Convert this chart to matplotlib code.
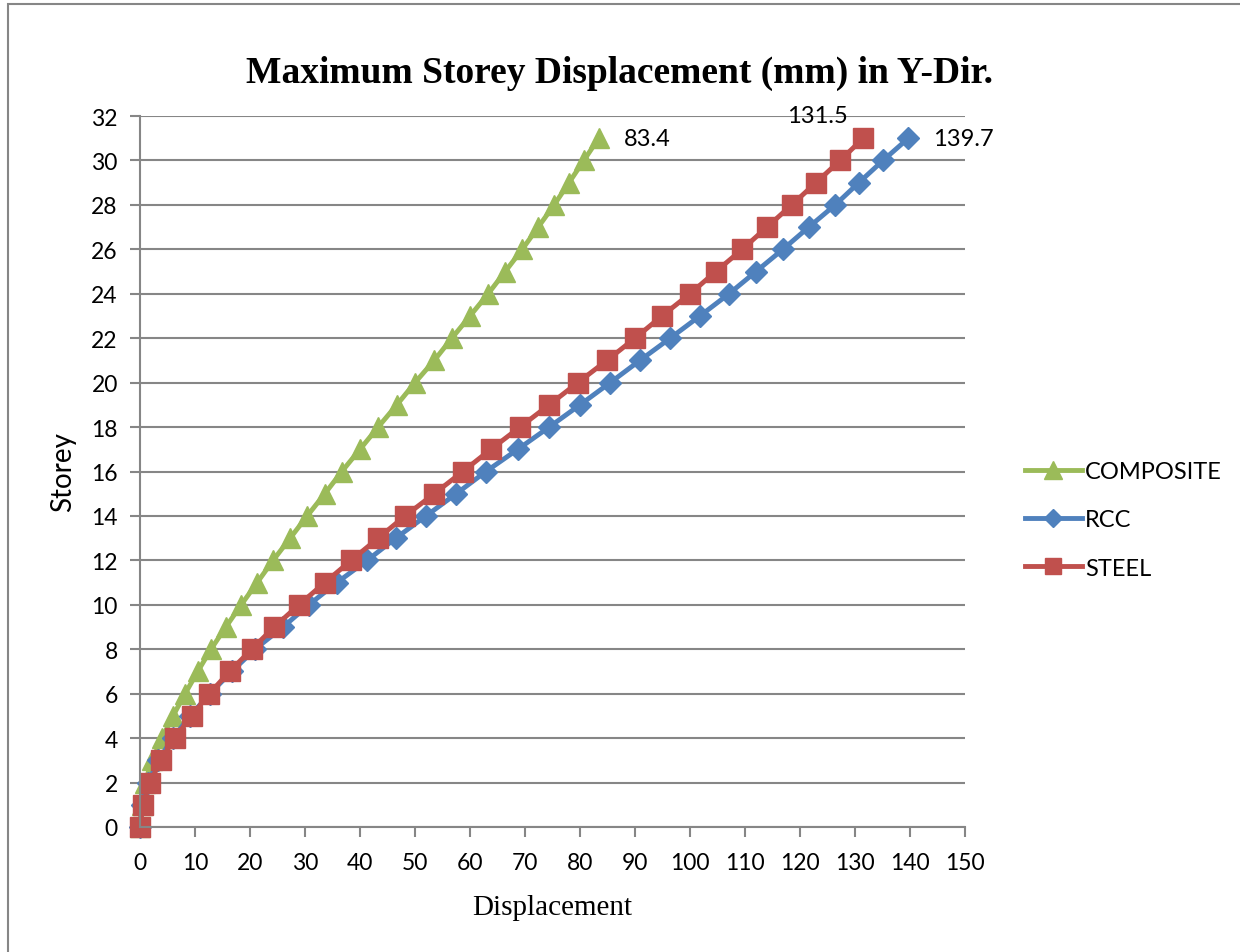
import matplotlib.pyplot as plt
import matplotlib.patches as mpatches
import numpy as np

storey = list(range(32))

# displacement (mm) per storey
composite = [0, 0.3, 0.9, 2.2, 4.0, 6.0, 8.2, 10.5, 12.9, 15.6,
             18.4, 21.3, 24.2, 27.3, 30.4, 33.6, 36.7, 40.0, 43.3, 46.7,
             50.0, 53.5, 56.7, 60.0, 63.3, 66.4, 69.5, 72.4, 75.3, 78.0,
             80.7, 83.4]
rcc = [0, 0.4, 1.5, 3.3, 6.0, 9.1, 12.7, 16.7, 20.9, 26.0,
       30.7, 35.8, 41.3, 46.5, 52.0, 57.5, 62.9, 68.7, 74.4, 80.0,
       85.5, 90.9, 96.4, 101.8, 107.1, 112.0, 116.9, 121.6, 126.4, 130.7,
       135.1, 139.7]
steel = [0, 0.5, 1.8, 3.8, 6.3, 9.4, 12.6, 16.3, 20.3, 24.4,
         28.9, 33.6, 38.4, 43.3, 48.2, 53.5, 58.7, 63.8, 69.1, 74.4,
         79.6, 84.9, 90.0, 94.9, 100.0, 104.7, 109.5, 114.0, 118.5, 122.9,
         127.3, 131.5]

green = '#9BBB59'
blue = '#4F81BD'
red = '#C0504D'
grey = '#868686'
sans = ['Lato', 'DejaVu Sans']
serif = ['Liberation Serif', 'DejaVu Serif']

fig = plt.figure(figsize=(12.4, 9.53), dpi=100)
ax = fig.add_axes([140/1240, 1 - 828/953, 825/1240, 711/953])

# outer chart frame (only left and top edges visible)
fig.patches.append(mpatches.Rectangle((8/1240, -0.1), 1.2, 1 - 5/953 + 0.1,
                                      transform=fig.transFigure, fill=False,
                                      edgecolor=grey, linewidth=1.5))

ax.plot(composite, storey, color=green, lw=3.5, marker='^', ms=15, label='COMPOSITE', clip_on=False)
ax.plot(rcc, storey, color=blue, lw=3.5, marker='D', ms=11, label='RCC', clip_on=False)
ax.plot(steel, storey, color=red, lw=3.5, marker='s', ms=14, label='STEEL', clip_on=False)

ax.set_xlim(0, 150)
ax.set_ylim(0, 32)
ax.set_xticks(np.arange(0, 151, 10))
ax.set_yticks(np.arange(0, 33, 2))
ax.yaxis.grid(True, color=grey, lw=1.5)
ax.set_axisbelow(True)
for s in ['top', 'right']:
    ax.spines[s].set_visible(False)
for s in ['left', 'bottom']:
    ax.spines[s].set_color(grey)
    ax.spines[s].set_linewidth(1.5)
ax.tick_params(axis='both', colors=grey, length=7, width=1.5, labelcolor='black')
for lab in ax.get_xticklabels() + ax.get_yticklabels():
    lab.set_family(sans)
    lab.set_fontsize(16.5)
ax.tick_params(axis='x', pad=11)
ax.tick_params(axis='y', pad=9)

ax.annotate('83.4', (composite[-1], storey[-1]), xytext=(18, 0), textcoords='offset points',
            va='center', ha='left', fontsize=17, family=sans)
ax.annotate('139.7', (rcc[-1], storey[-1]), xytext=(18, 0), textcoords='offset points',
            va='center', ha='left', fontsize=17, family=sans)
ax.annotate('131.5', (steel[-1], storey[-1]), xytext=(-33, 16), textcoords='offset points',
            va='center', ha='center', fontsize=17, family=sans)

fig.text(0.5, 1 - 73/953, 'Maximum Storey Displacement (mm) in Y-Dir.', family=serif,
         fontweight='bold', fontsize=27, ha='center', va='center')
ax.set_xlabel('Displacement', family=serif, fontsize=21, labelpad=15)
ax.set_ylabel('Storey', family=sans, fontsize=20, labelpad=11)

leg = ax.legend(loc='center left', bbox_to_anchor=(1.047, 0.432), frameon=False,
                prop={'family': sans, 'size': 17}, handlelength=2.4,
                handletextpad=0.15, labelspacing=1.15, markerscale=0.85)

fig.savefig('out.png', dpi=100)
